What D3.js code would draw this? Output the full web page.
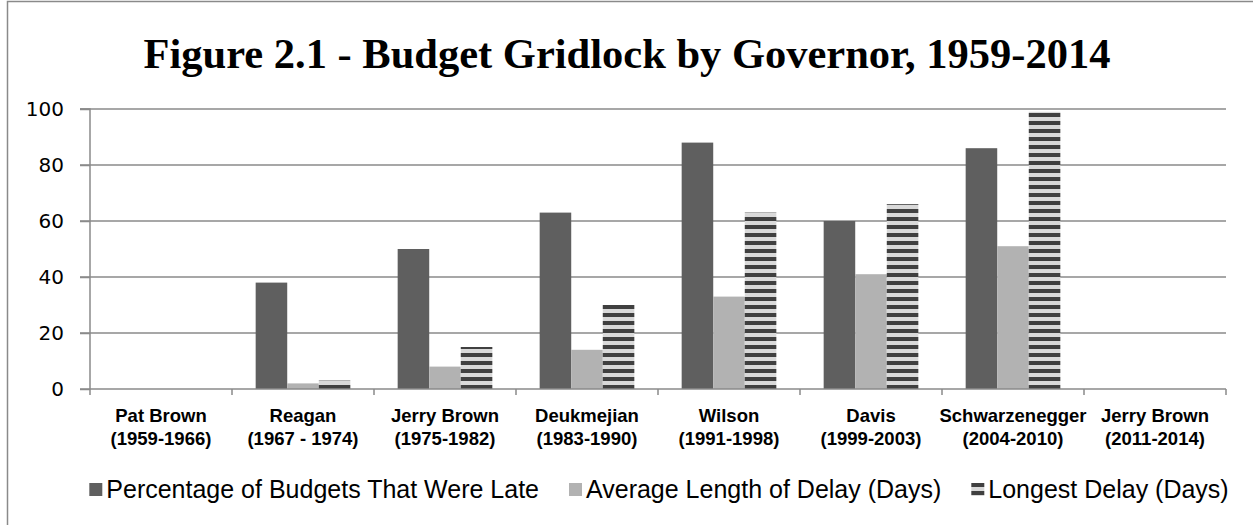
<!DOCTYPE html>
<html><head><meta charset="utf-8">
<script src="https://cdn.jsdelivr.net/npm/d3@7"></script>
<style>body{margin:0;background:#fff}svg{display:block}</style>
</head><body><svg id="c" width="1253" height="525"></svg>
<script>
const title = "Figure 2.1 - Budget Gridlock by Governor, 1959-2014";
const governors = ["Pat Brown","Reagan","Jerry Brown","Deukmejian","Wilson","Davis","Schwarzenegger","Jerry Brown"];
const terms = ["(1959-1966)","(1967 - 1974)","(1975-1982)","(1983-1990)","(1991-1998)","(1999-2003)","(2004-2010)","(2011-2014)"];
const seriesNames = ["Percentage of Budgets That Were Late","Average Length of Delay (Days)","Longest Delay (Days)"];
const pctLate = [0,38,50,63,88,60,86,0];
const avgDelay = [0,2,8,14,33,41,51,0];
const longestDelay = [0,3,15,30,63,66,99,0];
const yTicks = [0,20,40,60,80,100];

const svg = d3.select("#c");
const m = {l:90, r:1226, t:109, b:389};

const defs = svg.append("defs");
const pat = defs.append("pattern").attr("id","stripes").attr("patternUnits","userSpaceOnUse")
  .attr("width",8).attr("height",8).attr("y", m.b);
pat.append("rect").attr("width",8).attr("height",8).attr("fill","#d9d9d9");
pat.append("rect").attr("y",4).attr("width",8).attr("height",4).attr("fill","#404040");

const fills = ["#5f5f5f","#b2b2b2","url(#stripes)"];
const data = [pctLate, avgDelay, longestDelay];

// outer border
svg.append("rect").attr("x",7.5).attr("y",1.5).attr("width",1300).attr("height",600)
  .attr("fill","none").attr("stroke","#8a8a8a").attr("stroke-width",1.5);

svg.append("text").attr("x",627).attr("y",68).attr("text-anchor","middle")
  .attr("font-family","Liberation Serif, Times New Roman, serif").attr("font-weight","bold")
  .attr("font-size",42.5).attr("fill","#000").text(title);

const idx = d3.range(governors.length);
const x = d3.scaleBand().domain(idx).range([m.l,m.r]).paddingInner(0).paddingOuter(0);
const y = d3.scaleLinear().domain([0,100]).range([m.b,m.t]);
const bw = x.bandwidth()/4.5;
const xs = d3.scaleBand().domain([0,1,2]).range([0.75*bw, 3.75*bw]);

// gridlines
svg.append("g").selectAll("line").data(yTicks.filter(d=>d>0)).join("line")
  .attr("x1",m.l-10).attr("x2",m.r).attr("y1",d=>y(d)).attr("y2",d=>y(d))
  .attr("stroke","#8a8a8a").attr("stroke-width",1.5);

// bars
const g = svg.append("g");
data.forEach((vals,s)=>{
  g.selectAll(null).data(idx.filter(i=>vals[i]>0)).join("rect")
    .attr("x",i=>x(i)+xs(s)).attr("width",xs.bandwidth())
    .attr("y",i=>y(vals[i])).attr("height",i=>y(0)-y(vals[i]))
    .attr("fill",fills[s]);
});

// y axis
const ya = svg.append("g").attr("transform",`translate(${m.l},0)`)
  .call(d3.axisLeft(y).tickValues(yTicks).tickSize(10).tickPadding(16));
ya.select(".domain").attr("stroke","#8a8a8a").attr("stroke-width",1.5).attr("d",`M-10,${m.t}H0V${m.b}`);
ya.selectAll(".tick line").attr("stroke","#8a8a8a").attr("stroke-width",1.5);
ya.selectAll(".tick text").attr("font-family","DejaVu Sans, sans-serif").attr("font-size",20).attr("fill","#000");

// x axis
const bounds = d3.range(governors.length+1).map(i=> i<governors.length ? x(i) : m.r);
svg.append("line").attr("x1",m.l-10).attr("x2",m.r).attr("y1",m.b).attr("y2",m.b)
  .attr("stroke","#8a8a8a").attr("stroke-width",1.5);
svg.append("g").selectAll("line").data(bounds).join("line")
  .attr("x1",d=>d).attr("x2",d=>d).attr("y1",m.b).attr("y2",m.b+6)
  .attr("stroke","#8a8a8a").attr("stroke-width",1.5);
const lab = svg.append("g").attr("font-family","Liberation Sans, Arial, sans-serif").attr("font-weight","bold")
  .attr("font-size",18.5).attr("text-anchor","middle").attr("fill","#000");
idx.forEach(i=>{
  const cx = x(i)+x.bandwidth()/2;
  lab.append("text").attr("x",cx).attr("y",422).text(governors[i]);
  lab.append("text").attr("x",cx).attr("y",445).text(terms[i]);
});

// legend
const lg = svg.append("g").attr("font-family","Liberation Sans, Arial, sans-serif").attr("font-size",25).attr("fill","#000");
const items = seriesNames.map((n,s)=>{
  const it = lg.append("g");
  it.append("rect").attr("x",0).attr("y",-15).attr("width",13).attr("height",13).attr("fill",fills[s]);
  const t = it.append("text").attr("x",17).attr("y",0).text(n);
  return {it, w: 17 + t.node().getComputedTextLength()};
});
const gap = 30;
const total = d3.sum(items,d=>d.w) + gap*(items.length-1);
let cx0 = 659 - total/2;
items.forEach((d)=>{
  d.it.attr("transform",`translate(${cx0},498)`);
  cx0 += d.w + gap;
});
</script></body></html>
